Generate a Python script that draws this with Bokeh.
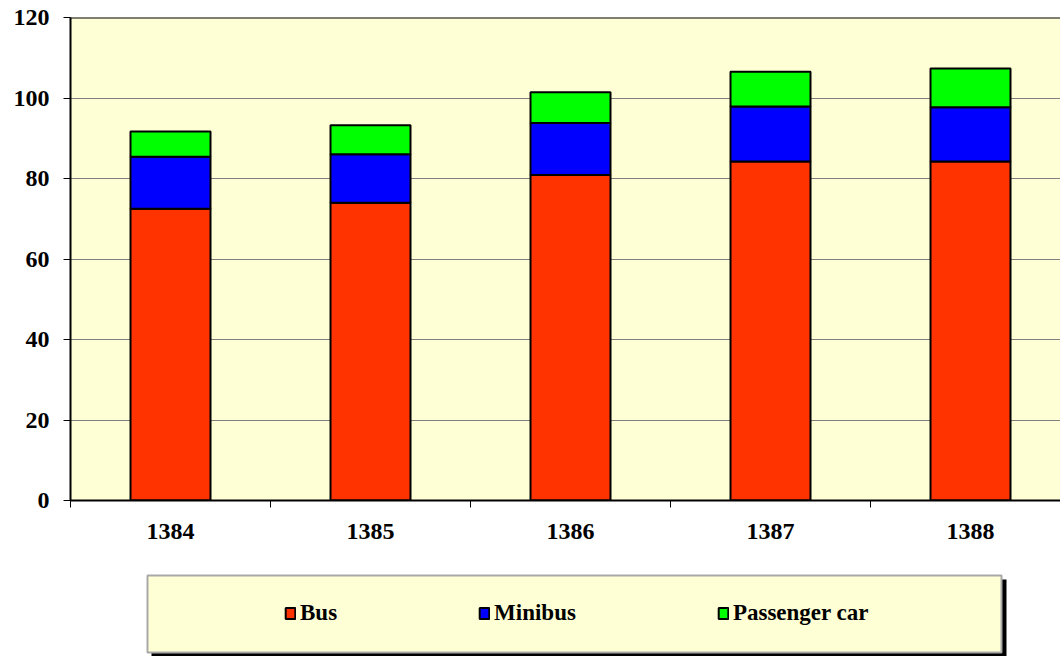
from bokeh.plotting import figure
from bokeh.models import Range1d, FixedTicker, Span, Legend, LegendItem
from bokeh.layouts import column
from bokeh.embed import file_html
from bokeh.resources import INLINE

years = ["1384", "1385", "1386", "1387", "1388"]
bus = [72.5, 74.0, 80.9, 84.2, 84.2]
minibus = [12.9, 12.0, 12.9, 13.7, 13.5]
car = [6.3, 7.2, 7.6, 8.6, 9.6]
series = ["Bus", "Minibus", "Passenger car"]
colors = ["#FF3300", "#0000FF", "#00FF00"]
y_ticks = [0, 20, 40, 60, 80, 100, 120]

BG = "#FFFFD5"
FONT = "Liberation Serif"

centers = [i + 0.5 for i in range(len(years))]
bounds = [float(i) for i in range(len(years) + 1)]

data = {"x": centers, "Bus": bus, "Minibus": minibus, "Passenger car": car}

p = figure(width=1060, height=568, output_backend="svg", toolbar_location=None,
           x_range=Range1d(0, 4.95), y_range=Range1d(0, 120),
           min_border_left=70, min_border_right=0, min_border_top=17, min_border_bottom=68)
p.background_fill_color = BG
p.border_fill_color = "white"
p.outline_line_color = None

p.vbar_stack(series, x="x", width=0.4, source=data, fill_color=colors,
             line_color="black", line_width=2)

p.xgrid.visible = False
p.ygrid.grid_line_color = "#808080"
p.ygrid.grid_line_width = 1
p.ygrid.ticker = FixedTicker(ticks=y_ticks)

p.add_layout(Span(location=120, dimension="width", line_color="black", line_width=2))

ya = p.yaxis[0]
ya.ticker = FixedTicker(ticks=y_ticks)
ya.axis_line_color = "black"
ya.axis_line_width = 2
ya.major_tick_out = 7
ya.major_tick_in = 0
ya.major_tick_line_color = "black"
ya.minor_tick_line_color = None
ya.major_label_text_font = FONT
ya.major_label_text_font_style = "bold"
ya.major_label_text_font_size = "24px"
ya.major_label_text_color = "black"
ya.major_label_standoff = 14

xa = p.xaxis[0]
xa.ticker = FixedTicker(ticks=centers, minor_ticks=bounds)
xa.major_label_overrides = {c: y for c, y in zip(centers, years)}
xa.axis_line_color = "black"
xa.axis_line_width = 2
xa.major_tick_out = 0
xa.major_tick_in = 0
xa.minor_tick_out = 7
xa.minor_tick_in = 0
xa.minor_tick_line_color = "black"
xa.minor_tick_line_width = 1
xa.major_label_text_font = FONT
xa.major_label_text_font_style = "bold"
xa.major_label_text_font_size = "24px"
xa.major_label_text_color = "black"
xa.major_label_standoff = 16

# legend panel (frame aligned with the chart's frame: x 70..1060, y 568..656)
p2 = figure(width=1060, height=88, output_backend="svg", toolbar_location=None,
            x_range=Range1d(0, 990), y_range=Range1d(0, 88),
            x_axis_location=None, y_axis_location=None,
            min_border_left=70, min_border_right=0, min_border_top=0, min_border_bottom=0)
p2.outline_line_color = None
p2.background_fill_color = "white"
p2.border_fill_color = "white"
p2.grid.visible = False
# shadow and box of the legend
p2.quad(left=[81], right=[936], bottom=[0], top=[77], fill_color="black", line_color=None)
p2.quad(left=[77], right=[931], bottom=[4], top=[81], fill_color=BG,
        line_color="#A8A8A8", line_width=2)

nan = float("nan")
items = []
for name, col in zip(series, colors):
    r = p2.vbar(x=[nan], top=[nan], bottom=[nan], width=1,
                fill_color=col, line_color="black", line_width=2)
    items.append(LegendItem(label=name, renderers=[r]))

leg = Legend(items=items, orientation="horizontal", location=(214, 30),
             spacing=141, padding=0, margin=0, label_standoff=4,
             glyph_width=12, glyph_height=14,
             label_text_font=FONT, label_text_font_style="bold",
             label_text_font_size="23px", label_text_color="black",
             border_line_color=None, background_fill_alpha=0)
p2.add_layout(leg)

layout = column(p, p2, spacing=0)
open("out.html", "w").write(file_html(layout, INLINE))
